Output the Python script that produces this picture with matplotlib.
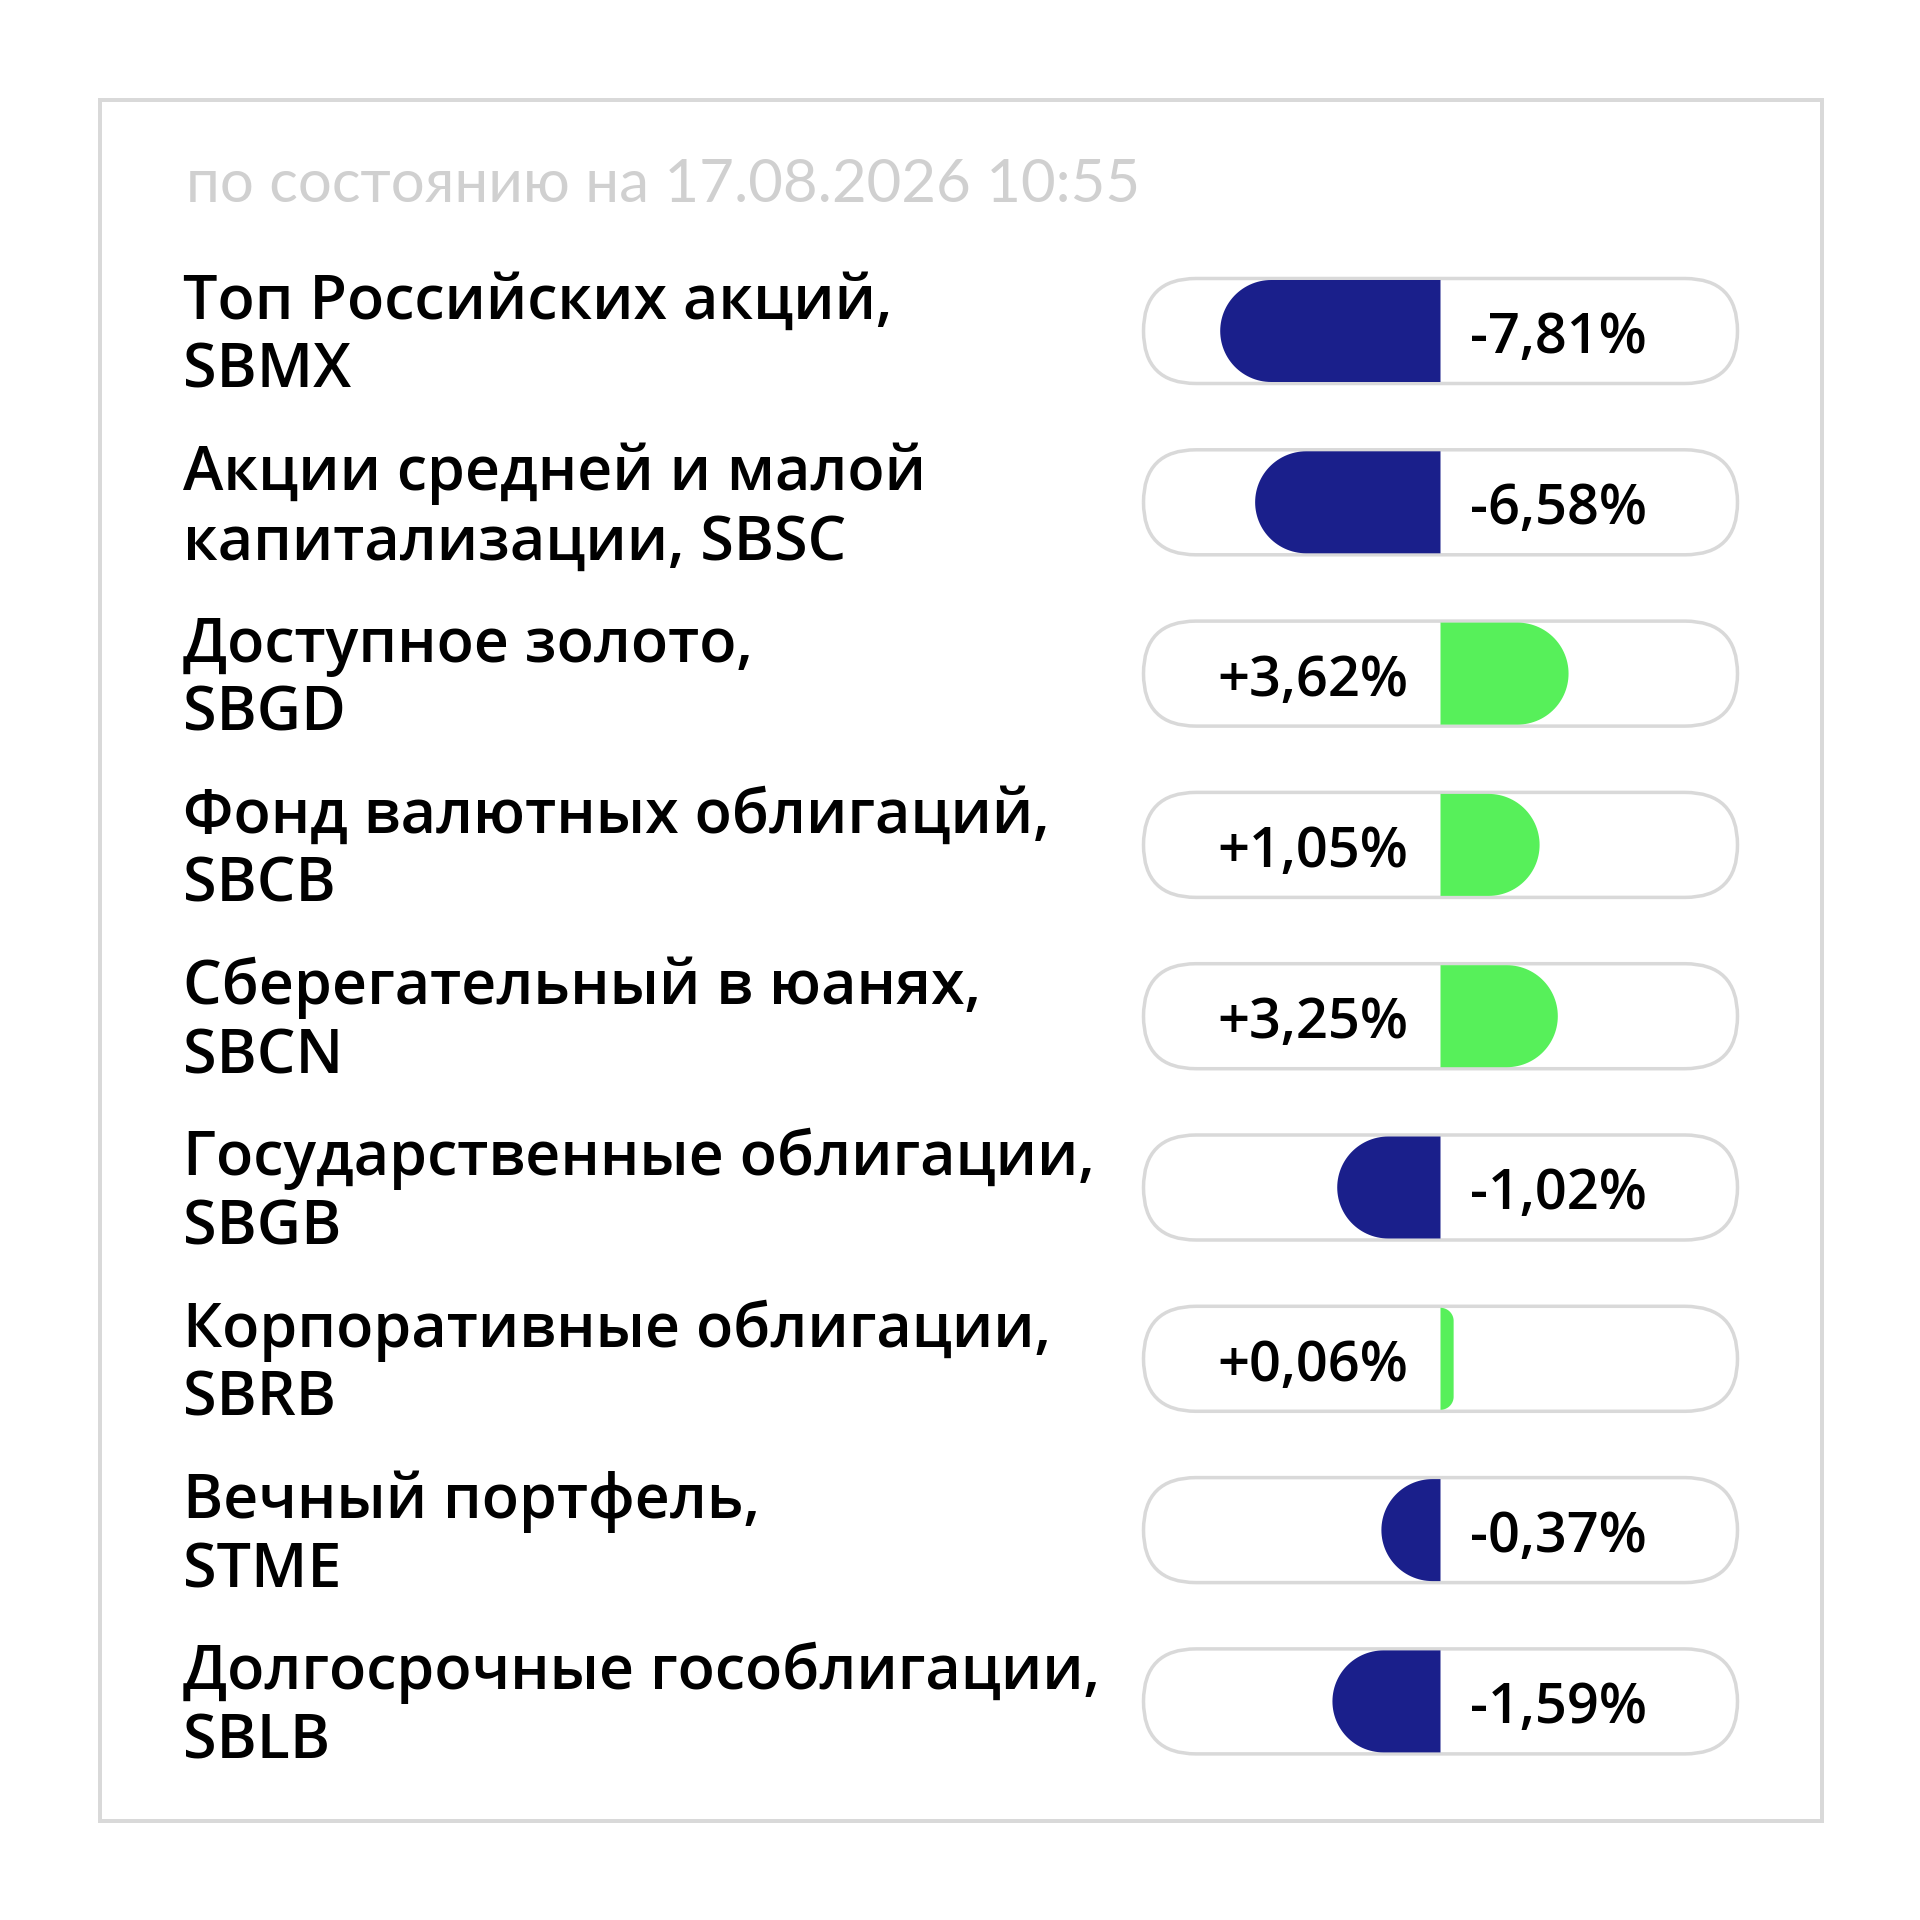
import numpy as np
import matplotlib.pyplot as plt
from matplotlib.patches import FancyBboxPatch, Polygon, Rectangle

# data
label_top = [
    "Топ Российских акций,",
    "Акции средней и малой",
    "Доступное золото,",
    "Фонд валютных облигаций,",
    "Сберегательный в юанях,",
    "Государственные облигации,",
    "Корпоративные облигации,",
    "Вечный портфель,",
    "Долгосрочные гособлигации,",
]
label_bottom = ["SBMX", "капитализации, SBSC", "SBGD", "SBCB", "SBCN",
                "SBGB", "SBRB", "STME", "SBLB"]
changes = [-7.81, -6.58, 3.62, 1.05, 3.25, -1.02, 0.06, -0.37, -1.59]
# bar length as share of the half track (as drawn in the picture)
bar_share = [0.738, 0.621, 0.429, 0.332, 0.393, 0.346, 0.044, 0.198, 0.362]
subtitle = "по состоянию на 17.08.2026 10:55"

NAVY = "#1a1f8b"
GREEN = "#57f05a"
GREY = "#d9d9d9"

PX = 72 / 100  # points per pixel at dpi 100
FONT = "Open Sans"

ROW0, STEP = 331, 171.3
CENTER, HALF = 1440.5, 298.5
PILL_H, BAR_H = 105, 102


def bar_shape(x0, w, yc, h, sign):
    # flat end at x0, rounded end at the tip, radius clamped like css
    r = min(h / 2, w)
    t = np.linspace(0, np.pi / 2, 30)
    tip = x0 + sign * w
    cx = tip - sign * r
    top = [(x0, yc - h / 2), (cx, yc - h / 2)]
    arc1 = [(cx + sign * r * np.sin(a), yc - h / 2 + r - r * np.cos(a)) for a in t]
    arc2 = [(cx + sign * r * np.cos(a), yc + h / 2 - r + r * np.sin(a)) for a in t]
    bottom = [(cx, yc + h / 2), (x0, yc + h / 2)]
    return Polygon(top + arc1 + arc2 + bottom, closed=True)


def main():
    fig = plt.figure(figsize=(19.2, 19.2), dpi=100)
    ax = fig.add_axes([0, 0, 1, 1])
    ax.set_xlim(0, 1920)
    ax.set_ylim(1920, 0)
    ax.axis("off")

    ax.add_patch(Rectangle((100, 100), 1722, 1721, fill=False,
                           edgecolor=GREY, linewidth=4 * PX))

    ax.text(186, 202, subtitle, fontsize=60 * PX, family="Lato",
            weight="normal", color="#d0d0d0", va="baseline")

    for i, v in enumerate(changes):
        yc = ROW0 + i * STEP
        ax.text(183, yc - 12, label_top[i], fontsize=61 * PX, family=FONT,
                weight="semibold", va="baseline")
        ax.text(183, yc + 57, label_bottom[i], fontsize=61 * PX, family=FONT,
                weight="semibold", va="baseline")

        pill = FancyBboxPatch((CENTER - HALF + 1.5, yc - PILL_H / 2),
                              2 * HALF - 3, PILL_H,
                              boxstyle=f"round,pad=0,rounding_size={PILL_H / 2}",
                              facecolor="white", edgecolor=GREY,
                              linewidth=3.5 * PX)
        ax.add_patch(pill)

        sign = 1 if v > 0 else -1
        bar = bar_shape(CENTER, bar_share[i] * HALF, yc, BAR_H, sign)
        bar.set_facecolor(GREEN if v > 0 else NAVY)
        bar.set_edgecolor("none")
        ax.add_patch(bar)

        txt = f"{v:+.2f}%".replace(".", ",")
        if v > 0:
            ax.text(CENTER - 32, yc + 22, txt, fontsize=56 * PX, family=FONT,
                    weight="semibold", ha="right", va="baseline")
        else:
            ax.text(CENTER + 29, yc + 22, txt, fontsize=56 * PX, family=FONT,
                    weight="semibold", ha="left", va="baseline")

    fig.savefig("out.png", dpi=100, facecolor="white")


if __name__ == "__main__":
    main()
